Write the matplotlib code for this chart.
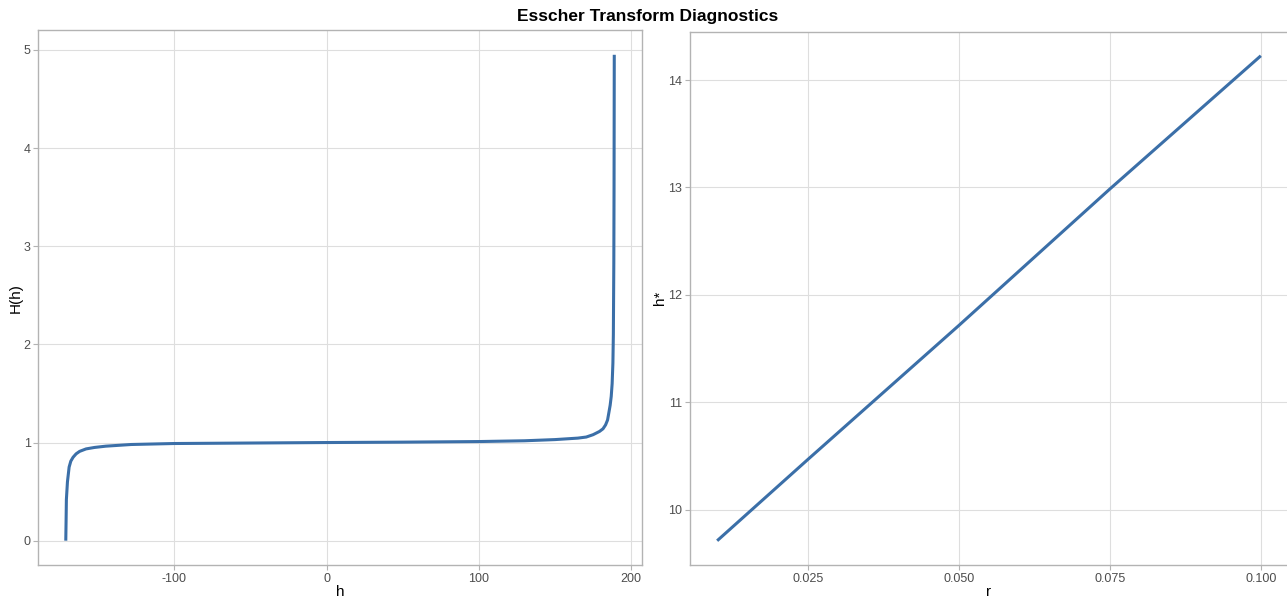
import matplotlib
matplotlib.use("Agg")
import matplotlib.pyplot as plt

# left panel: H(h)
h_vals = [-171.3, -171.1, -170.9, -170.2, -169.1, -168.0, -166.5, -164.5, -162.2,
          -158.0, -152.4, -145.0, -128.3, -100.2, -50.0, 0.0, 50.0, 100.0, 130.0,
          150.0, 165.0, 170.5, 175.0, 179.2, 181.5, 183.2, 184.5, 185.3, 186.2,
          186.9, 187.5, 188.0, 188.3, 188.6, 188.75, 188.9]
H_vals = [0.0, 0.2, 0.42, 0.6, 0.75, 0.81, 0.85, 0.885, 0.91,
          0.935, 0.95, 0.963, 0.98, 0.99, 0.995, 1.0, 1.004, 1.01, 1.018,
          1.03, 1.045, 1.056, 1.08, 1.113, 1.14, 1.18, 1.23, 1.30, 1.38,
          1.47, 1.6, 1.81, 2.1, 2.83, 3.6, 4.95]

# right panel: h* against r
r_vals = [0.01, 0.025, 0.05, 0.075, 0.1]
hstar_vals = [9.71, 10.466, 11.714, 12.985, 14.226]

line_col = "#3B6FA8"
plt.rcParams["font.family"] = ["Liberation Sans", "DejaVu Sans"]
plt.rcParams["axes.unicode_minus"] = False

fig = plt.figure(figsize=(12.87, 5.98), dpi=100)
ax1 = fig.add_axes([0.0298, 0.0552, 0.4688, 0.8938])
ax2 = fig.add_axes([0.5361, 0.0552, 0.4647, 0.8921])


def style(ax):
    ax.set_facecolor("white")
    for s in ax.spines.values():
        s.set_color("#B3B3B3")
        s.set_linewidth(1.0)
    ax.grid(True, color="#DEDEDE", linewidth=0.8)
    ax.set_axisbelow(True)
    ax.tick_params(colors="#B3B3B3", labelcolor="#4D4D4D", labelsize=9,
                   length=3.5, width=0.8, pad=2)


ax1.plot(h_vals, H_vals, color=line_col, lw=2.2, solid_capstyle="butt")
ax1.set_xticks([-100, 0, 100, 200])
ax1.set_yticks([0, 1, 2, 3, 4, 5])
ax1.set_xlabel("h", fontsize=11, labelpad=0)
ax1.set_ylabel("H(h)", fontsize=11, labelpad=1)
style(ax1)

ax2.plot(r_vals, hstar_vals, color=line_col, lw=2.2, solid_capstyle="butt")
ax2.set_xticks([0.025, 0.05, 0.075, 0.1])
ax2.set_xticklabels(["0.025", "0.050", "0.075", "0.100"])
ax2.set_yticks([10, 11, 12, 13, 14])
ax2.set_xlabel("r", fontsize=11, labelpad=0)
ax2.set_ylabel("h*", fontsize=11, labelpad=1)
style(ax2)

fig.suptitle("Esscher Transform Diagnostics", x=0.503, y=0.985,
             fontsize=12.5, fontweight="bold")

fig.savefig("out.png", dpi=100, facecolor="white")
